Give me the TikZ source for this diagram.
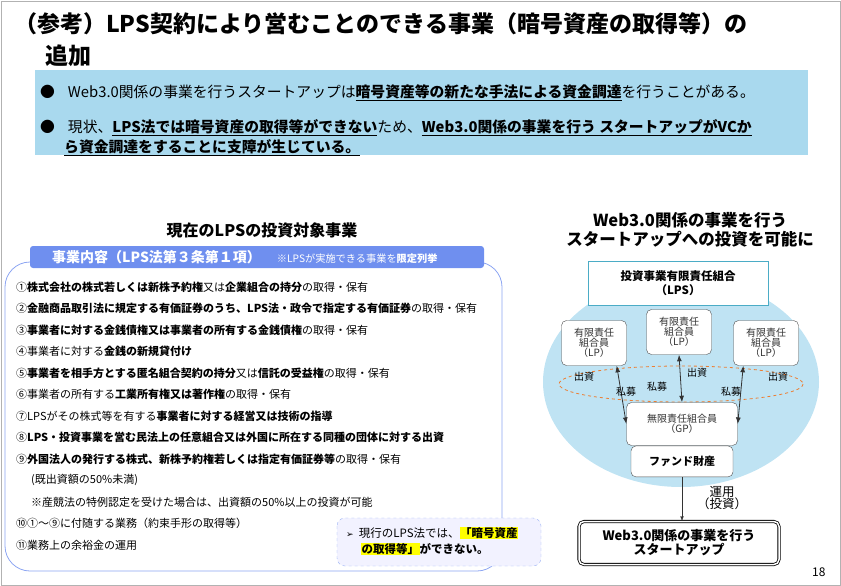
\documentclass[tikz,border=0pt]{standalone}
\usepackage{fontspec}
\setmainfont{Noto Sans CJK JP}
\newfontfamily\symfont{DejaVu Sans}
\usepackage{xcolor}
\usetikzlibrary{arrows.meta,positioning,shapes.geometric}
\definecolor{barblue}{HTML}{A9D9EE}
\definecolor{hdblue}{HTML}{6F8FEF}
\definecolor{ovalblue}{HTML}{BFE3F3}
\definecolor{lpsline}{HTML}{4BACC6}
\definecolor{dashorange}{HTML}{ED7D31}
\definecolor{mark}{HTML}{FFFF00}
\newcommand{\fs}[1]{\fontsize{#1}{#1}\selectfont}
\newcommand{\hl}[1]{{\setlength{\fboxsep}{0.5pt}\colorbox{mark}{#1}}}

\begin{document}
\begin{tikzpicture}[
    x = 1pt, y = -1pt,
    font = \fs{11},
    every node/.style = {inner sep = 0, anchor = west},
    item/.style = {font = \fs{11}},
    lpbox/.style = {draw = black!70, fill = white, rounded corners = 5pt, anchor = center,
                    minimum width = 65pt, minimum height = 45pt, align = center, font = \fs{10}, text = black!80},
    flow/.style = {Latex-Latex, thick, black!80},
    lbl/.style = {anchor = center, font = \fs{10}}
  ]

  \useasboundingbox (0,0) rectangle (841,586);
  \draw [gray!60] (1,1) rectangle (840,585);

  % title
  \node [font = \fs{23}\bfseries] (title1) at (14,24) {（参考）LPS契約により営むことのできる事業（暗号資産の取得等）の};
  \node [font = \fs{23}\bfseries] (title2) at (45,56) {追加};

  % summary bar
  \fill [barblue] (35,70) rectangle (808,155);
  \node [font = \fs{14.8}] (b1) at (40,93) {●\hspace{13pt}Web3.0関係の事業を行うスタートアップは\textbf{\underline{暗号資産等の新たな手法による資金調達}}を行うことがある。};
  \node [font = \fs{14.8}] (b2) at (40,128) {●\hspace{13pt}現状、\textbf{\underline{LPS法では暗号資産の取得等ができない}}ため、\textbf{\underline{Web3.0関係の事業を行う\ スタートアップがVCか}}};
  \node [font = \fs{14.8}] (b3) at (64,148) {\textbf{\underline{ら資金調達をすることに支障が生じている。}}};

  % left panel
  \node [font = \fs{16}\bfseries, anchor = center] (lhead) at (262,230) {現在のLPSの投資対象事業};
  \draw [hdblue!80, thick, rounded corners = 25pt] (5,262) rectangle (502,571);
  \fill [hdblue, rounded corners = 3pt] (30,246) rectangle (484,268);
  \node [text = white] (hd) at (52,257) {\fs{14}\textbf{事業内容（LPS法第３条第１項）}\hspace{16pt}\fs{10.2}※LPSが実施できる事業を\textbf{限定列挙}};

  \node [item] (i1) at (16,287) {①\textbf{株式会社の株式若しくは新株予約権}又は\textbf{企業組合の持分}の取得・保有};
  \node [item] (i2) at (16,308) {②\textbf{金融商品取引法に規定する有価証券のうち、LPS法・政令で指定する有価証券}の取得・保有};
  \node [item] (i3) at (16,330) {③\textbf{事業者に対する金銭債権又は事業者の所有する金銭債権}の取得・保有};
  \node [item] (i4) at (16,351) {④事業者に対する\textbf{金銭の新規貸付け}};
  \node [item] (i5) at (16,373) {⑤\textbf{事業者を相手方とする匿名組合契約の持分}又は\textbf{信託の受益権}の取得・保有};
  \node [item] (i6) at (16,394) {⑥事業者の所有する\textbf{工業所有権又は著作権}の取得・保有};
  \node [item] (i7) at (16,416) {⑦LPSがその株式等を有する\textbf{事業者に対する経営又は技術の指導}};
  \node [item] (i8) at (16,437) {⑧\textbf{LPS・投資事業を営む民法上の任意組合又は外国に所在する同種の団体に対する出資}};
  \node [item] (i9) at (16,459) {⑨\textbf{外国法人の発行する株式、新株予約権若しくは指定有価証券等}の取得・保有};
  \node [item] (i9a) at (31,480) {(既出資額の50\%未満)};
  \node [item] (i9b) at (31,502) {※産競法の特例認定を受けた場合は、出資額の50\%以上の投資が可能};
  \node [item] (i10) at (16,523) {⑩①～⑨に付随する業務（約束手形の取得等）};
  \node [item] (i11) at (16,545) {⑪業務上の余裕金の運用};

  \draw [hdblue!70, dashed, fill = blue!5, rounded corners = 8pt] (337,518) rectangle (541,566);
  \node [font = \fs{11.5}, anchor = north west, align = left] (note) at (346,527)
    {{\symfont\fs{9}➢}\ \ 現行のLPS法では、\textbf{\hl{「暗号資産}}\\[3pt]\hspace{15pt}\textbf{\hl{の取得等」}ができない。}};

  % right panel
  \node [font = \fs{16.5}\bfseries, anchor = center, align = center] (rhead) at (690,230)
    {Web3.0関係の事業を行う\\[3pt]スタートアップへの投資を可能に};
  \fill [ovalblue] (681,382) ellipse [x radius = 138, y radius = 105];
  \node [draw = lpsline, fill = white, thick, anchor = center, minimum width = 180pt, minimum height = 44pt,
         align = center, font = \fs{11.5}\bfseries] (lps) at (678,283) {投資事業有限責任組合\\[2pt]（LPS）};
  \node [lpbox] (lpl) at (594,343) {有限責任\\組合員\\（LP）};
  \node [lpbox] (lpm) at (679,332) {有限責任\\組合員\\（LP）};
  \node [lpbox] (lpr) at (766,343) {有限責任\\組合員\\（LP）};
  \draw [dashorange, thick, dashed] (681,384) ellipse [x radius = 122, y radius = 18];
  \node [lpbox, minimum width = 111pt, minimum height = 43pt] (gp) at (682,424) {無限責任組合員\\（GP）};
  \node [lpbox, minimum width = 102pt, minimum height = 31pt, font = \fs{11}\bfseries, text = black,
         below = 0pt of gp] (fund) {ファンド財産};

  \draw [flow] (lpl.south east) ++(-10,0) -- (gp.west);
  \draw [flow] (lpm.south) -- (gp.north);
  \draw [flow] (lpr.south west) ++(10,0) -- (gp.east);
  \node [lbl] (q1) at (584,377) {出資};
  \node [lbl] (p1) at (626,392) {私募};
  \node [lbl] (p2) at (657,387) {私募};
  \node [lbl] (q2) at (697,373) {出資};
  \node [lbl] (p3) at (731,392) {私募};
  \node [lbl] (q3) at (778,377) {出資};

  \node [draw, double, double distance = 1.5pt, thick, rounded corners = 5pt, fill = white, anchor = center,
         minimum width = 200pt, minimum height = 43pt, align = center, font = \fs{13}\bfseries] (su) at (679,543)
    {Web3.0関係の事業を行う\\[1pt]スタートアップ};
  \draw [-Latex, black!80] (fund.south) -- (fund.south |- su.north);
  \node [lbl, font = \fs{12.5}, align = center] (use) at (722,498) {運用\\（投資）};

  \node [font = \fs{12}] (pg) at (812,572) {18};
\end{tikzpicture}
\end{document}
